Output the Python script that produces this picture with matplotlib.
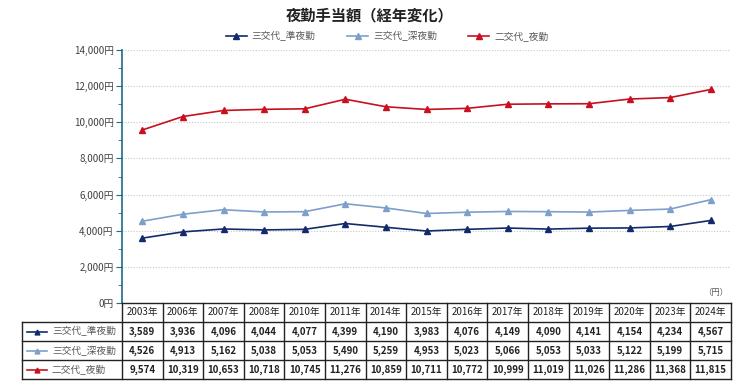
import matplotlib
matplotlib.use("Agg")
import matplotlib.pyplot as plt
from matplotlib.lines import Line2D
from matplotlib.ticker import MultipleLocator, FuncFormatter

plt.rcParams['font.family'] = ['Noto Sans CJK JP', 'DejaVu Sans']

years = ["2003年", "2006年", "2007年", "2008年", "2010年", "2011年", "2014年", "2015年",
         "2016年", "2017年", "2018年", "2019年", "2020年", "2023年", "2024年"]
series_names = ["三交代_準夜勤", "三交代_深夜勤", "二交代_夜勤"]
jun_yakin = [3589, 3936, 4096, 4044, 4077, 4399, 4190, 3983, 4076, 4149, 4090, 4141, 4154, 4234, 4567]
shin_yakin = [4526, 4913, 5162, 5038, 5053, 5490, 5259, 4953, 5023, 5066, 5053, 5033, 5122, 5199, 5715]
ni_yakin = [9574, 10319, 10653, 10718, 10745, 11276, 10859, 10711, 10772, 10999, 11019, 11026, 11286, 11368, 11815]
series = [jun_yakin, shin_yakin, ni_yakin]
colors = ["#142b6b", "#7f9fcb", "#c8101e"]

W, H = 744, 384
fig = plt.figure(figsize=(W / 100, H / 100), dpi=100)

def fx(px):
    return px / W

def fy(py):
    return 1 - py / H

ax_l, ax_r, ax_t, ax_b = 122, 731, 50, 303
ax = fig.add_axes([fx(ax_l), fy(ax_b), fx(ax_r) - fx(ax_l), fy(ax_t) - fy(ax_b)])

x = list(range(len(years)))
for vals, c in zip(series, colors):
    ax.plot(x, vals, color=c, lw=1.2, marker='^', ms=5, mec=c, mfc=c)

ax.set_xlim(-0.5, len(years) - 0.5)
ax.set_ylim(0, 14000)
ax.yaxis.set_major_locator(MultipleLocator(2000))
ax.yaxis.set_minor_locator(MultipleLocator(1000))
ax.yaxis.set_major_formatter(FuncFormatter(lambda v, p: f"{int(v):,}円"))
ax.set_xticks([])
ax.grid(axis='y', which='major', color='#c8c8c8', ls=(0, (1, 1.5)), lw=0.8)
for s in ['top', 'right', 'bottom']:
    ax.spines[s].set_visible(False)
ax.spines['left'].set_color('#1f6b8a')
ax.spines['left'].set_linewidth(1.2)
ax.tick_params(axis='y', which='major', length=4, color='#1f6b8a', labelsize=7, labelcolor='#404040', pad=2)
ax.tick_params(axis='y', which='minor', length=3, color='#1f6b8a')

# Title
fig.text(fx(370), fy(15), "夜勤手当額（経年変化）", ha='center', va='center', fontsize=11, fontweight='bold', color='#222222')

# Legend
handles = [Line2D([0], [0], color=c, lw=1.2, marker='^', ms=4, mfc=c, mec=c) for c in colors]
fig.legend(handles, series_names, loc='center', bbox_to_anchor=(fx(387), fy(36)), ncol=3, frameon=False,
           fontsize=7, labelcolor='#595959', handlelength=2.2, columnspacing=3.2, handletextpad=0.5)

# Unit label
fig.text(fx(728), fy(293), "（円）", ha='right', va='center', fontsize=6, color='#595959')

# Table
tbl_left = 22
row_y = [303, 322, 341, 360, 379]
col_w = (ax_r - ax_l) / len(years)
lc = '#222222'
lw = 1.0
fig.add_artist(Line2D([fx(ax_l), fx(ax_r)], [fy(row_y[0])] * 2, color=lc, lw=lw))
for yy in row_y[1:]:
    fig.add_artist(Line2D([fx(tbl_left), fx(ax_r)], [fy(yy)] * 2, color=lc, lw=lw))
fig.add_artist(Line2D([fx(tbl_left)] * 2, [fy(row_y[1]), fy(row_y[-1])], color=lc, lw=lw))
for i in range(len(years) + 1):
    xx = ax_l + i * col_w
    fig.add_artist(Line2D([fx(xx)] * 2, [fy(row_y[0]), fy(row_y[-1])], color=lc, lw=lw))

for i, yl in enumerate(years):
    cx = ax_l + (i + 0.5) * col_w
    fig.text(fx(cx), fy((row_y[0] + row_y[1]) / 2), yl, ha='center', va='center', fontsize=7, color='#222222')

for r, (name, vals, c) in enumerate(zip(series_names, series, colors)):
    cy = (row_y[r + 1] + row_y[r + 2]) / 2
    fig.add_artist(Line2D([fx(27), fx(47)], [fy(cy)] * 2, color=c, lw=1.2))
    fig.add_artist(Line2D([fx(37)], [fy(cy)], color=c, marker='^', ms=3.5, mfc=c, mec=c))
    fig.text(fx(52), fy(cy), name, ha='left', va='center', fontsize=7, color='#595959')
    for i, v in enumerate(vals):
        cx = ax_l + (i + 0.5) * col_w
        fig.text(fx(cx), fy(cy), f"{v:,}", ha='center', va='center', fontsize=7, color='#222222', fontweight='bold')

fig.savefig("out.png", dpi=100)
